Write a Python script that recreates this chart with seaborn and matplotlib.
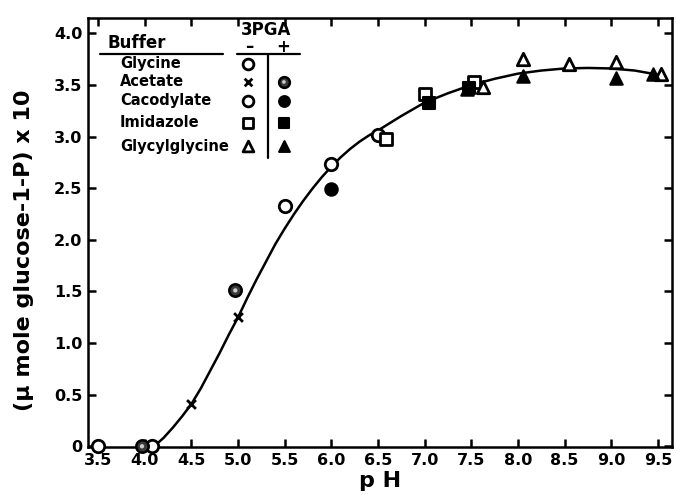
#Recreating the pH activity chart (phosphorylase, 3PGA +/-)
import pandas as pd
import matplotlib
matplotlib.use('Agg')
import matplotlib.pyplot as plt
import seaborn as sns

#Data
gly_minus_ph = [3.5, 4.08]
gly_minus_v = [0.0, 0.0]
ace_minus_ph = [4.5, 5.0]
ace_minus_v = [0.41, 1.25]
ace_plus_ph = [3.97, 4.97]
ace_plus_v = [0.0, 1.51]
caco_minus_ph = [5.5, 6.0, 6.5]
caco_minus_v = [2.33, 2.73, 3.02]
caco_plus_ph = [6.0]
caco_plus_v = [2.49]
imid_minus_ph = [6.58, 7.0, 7.53]
imid_minus_v = [2.98, 3.41, 3.53]
imid_plus_ph = [7.05, 7.48]
imid_plus_v = [3.33, 3.47]
glygly_minus_ph = [7.63, 8.05, 8.55, 9.05, 9.53]
glygly_minus_v = [3.48, 3.75, 3.70, 3.72, 3.61]
glygly_plus_ph = [7.45, 8.05, 9.05, 9.45]
glygly_plus_v = [3.46, 3.59, 3.57, 3.61]

#fitted curve drawn by hand in the original (read point by point)
curve_ph = [4.1, 4.2, 4.3, 4.4, 4.5, 4.6, 4.7, 4.8, 4.9, 5.0, 5.1, 5.2, 5.3, 5.4,
            5.5, 5.6, 5.7, 5.8, 5.9, 6.0, 6.1, 6.2, 6.3, 6.4, 6.5, 6.75, 7.0,
            7.25, 7.5, 7.75, 8.0, 8.25, 8.5, 8.75, 9.0, 9.25, 9.5]
curve_v = [0.0, 0.08, 0.18, 0.29, 0.41, 0.56, 0.73, 0.90, 1.08, 1.25, 1.44, 1.62,
           1.79, 1.96, 2.11, 2.25, 2.38, 2.50, 2.61, 2.71, 2.80, 2.88, 2.95, 3.01,
           3.06, 3.20, 3.33, 3.42, 3.50, 3.56, 3.61, 3.64, 3.66, 3.665, 3.66, 3.64, 3.60]

xticks = [3.5, 4.0, 4.5, 5.0, 5.5, 6.0, 6.5, 7.0, 7.5, 8.0, 8.5, 9.0, 9.5]
yticks = [0, 0.5, 1.0, 1.5, 2.0, 2.5, 3.0, 3.5, 4.0]
ytick_labels = ['0', '0.5', '1.0', '1.5', '2.0', '2.5', '3.0', '3.5', '4.0']

buffers = ['Glycine', 'Acetate', 'Cacodylate', 'Imidazole', 'Glycylglycine']

sns.set_style('ticks', {'axes.edgecolor': 'black', 'xtick.color': 'black',
                        'ytick.color': 'black', 'text.color': 'black',
                        'axes.labelcolor': 'black'})
plt.rcParams['font.family'] = ['DejaVu Sans']
plt.rcParams['font.weight'] = 'bold'
plt.rcParams['axes.labelweight'] = 'bold'

fig = plt.figure(figsize=(6.76, 4.97), dpi=100)
ax = fig.add_axes([0.130, 0.100, 0.864, 0.864])

#curve
dfCurve = pd.DataFrame({'pH': curve_ph, 'v': curve_v})
sns.lineplot(data=dfCurve, x='pH', y='v', color='black', linewidth=1.8, ax=ax)

#groups: (ph, v, marker, filled)
groups = [
    (gly_minus_ph, gly_minus_v, 'o', False),
    (ace_minus_ph, ace_minus_v, 'x', None),
    (ace_plus_ph, ace_plus_v, 'o', 'dot'),
    (caco_minus_ph, caco_minus_v, 'o', False),
    (caco_plus_ph, caco_plus_v, 'o', True),
    (imid_minus_ph, imid_minus_v, 's', False),
    (imid_plus_ph, imid_plus_v, 's', True),
    (glygly_minus_ph, glygly_minus_v, '^', False),
    (glygly_plus_ph, glygly_plus_v, '^', True),
]

def draw_marker(ph, v, marker, filled, size=80, transform=None):
    kw = dict(clip_on=False, zorder=5, legend=False, ax=ax)
    if transform is not None:
        kw['transform'] = transform
    d = pd.DataFrame({'pH': ph, 'v': v})
    if filled is None:
        sns.scatterplot(data=d, x='pH', y='v', marker='x', s=size * 0.5,
                        color='black', linewidth=2.0, **kw)
    elif filled == 'dot':
        sns.scatterplot(data=d, x='pH', y='v', marker='o', s=size,
                        facecolor='#3a3a3a', edgecolor='black', linewidth=1.8, **kw)
        sns.scatterplot(data=d, x='pH', y='v', marker='o', s=size * 0.12,
                        facecolor='#cccccc', edgecolor='none', **kw)
    elif filled:
        sns.scatterplot(data=d, x='pH', y='v', marker=marker, s=size,
                        facecolor='black', edgecolor='black', linewidth=1.5, **kw)
    else:
        sns.scatterplot(data=d, x='pH', y='v', marker=marker, s=size,
                        facecolor='white', edgecolor='black', linewidth=2.0, **kw)

for ph, v, m, f in groups:
    draw_marker(ph, v, m, f)

ax.set_xlim(3.39, 9.65)
ax.set_ylim(-0.01, 4.15)
ax.set_xticks(xticks)
ax.set_xticklabels([str(t) for t in xticks])
ax.set_yticks(yticks)
ax.set_yticklabels(ytick_labels)
ax.tick_params(direction='in', length=6, width=1.8, top=True, right=True,
               labelsize=11.5, pad=4, colors='black')
for lab in ax.get_xticklabels() + ax.get_yticklabels():
    lab.set_fontweight('bold')
for sp in ax.spines.values():
    sp.set_linewidth(1.8)
    sp.set_color('black')
    sp.set_visible(True)

ax.set_xlabel('p H', fontsize=16, fontweight='bold', labelpad=2)
ax.set_ylabel('(\u03bc mole glucose-1-P) x 10', fontsize=16, fontweight='bold')
ax.yaxis.set_label_coords(-0.092, 0.459)

#legend table drawn by hand, axes coordinates
tr = ax.transAxes
def px(x, y):
    return ((x - 88) / 584.0, (447 - y) / 429.0)

bx, by = px(108, 43)
ax.text(bx, by, 'Buffer', transform=tr, fontsize=12, fontweight='bold', va='center', ha='left')
gx, gy = px(266, 30)
ax.text(gx, gy, '3PGA', transform=tr, fontsize=12, fontweight='bold', va='center', ha='center')
mx, my = px(249, 47)
ax.text(mx, my, '\u2013', transform=tr, fontsize=12, fontweight='bold', va='center', ha='center')
ppx, ppy = px(283, 47)
ax.text(ppx, ppy, '+', transform=tr, fontsize=12, fontweight='bold', va='center', ha='center')
l0 = px(100, 54); l1 = px(223, 54)
ax.plot([l0[0], l1[0]], [l0[1], l1[1]], color='black', lw=1.6, transform=tr)
l0 = px(237, 54); l1 = px(300, 54)
ax.plot([l0[0], l1[0]], [l0[1], l1[1]], color='black', lw=1.6, transform=tr)
v0 = px(268, 54); v1 = px(268, 158)
ax.plot([v0[0], v1[0]], [v0[1], v1[1]], color='black', lw=1.6, transform=tr)

row_y = [64, 82, 101, 123, 146]
minus_keys = [('o', False), ('x', None), ('o', False), ('s', False), ('^', False)]
plus_keys = [None, ('o', 'dot'), ('o', True), ('s', True), ('^', True)]
for name, ry, mk, pk in zip(buffers, row_y, minus_keys, plus_keys):
    tx, ty = px(120, ry)
    ax.text(tx, ty, name, transform=tr, fontsize=10.5, fontweight='bold', va='center', ha='left')
    ax2x, ax2y = px(248, ry)
    draw_marker([ax2x], [ax2y], mk[0], mk[1], size=60, transform=tr)
    if pk is not None:
        ax3x, ax3y = px(284, ry)
        draw_marker([ax3x], [ax3y], pk[0], pk[1], size=60, transform=tr)

fig.savefig('out.png', dpi=100)
